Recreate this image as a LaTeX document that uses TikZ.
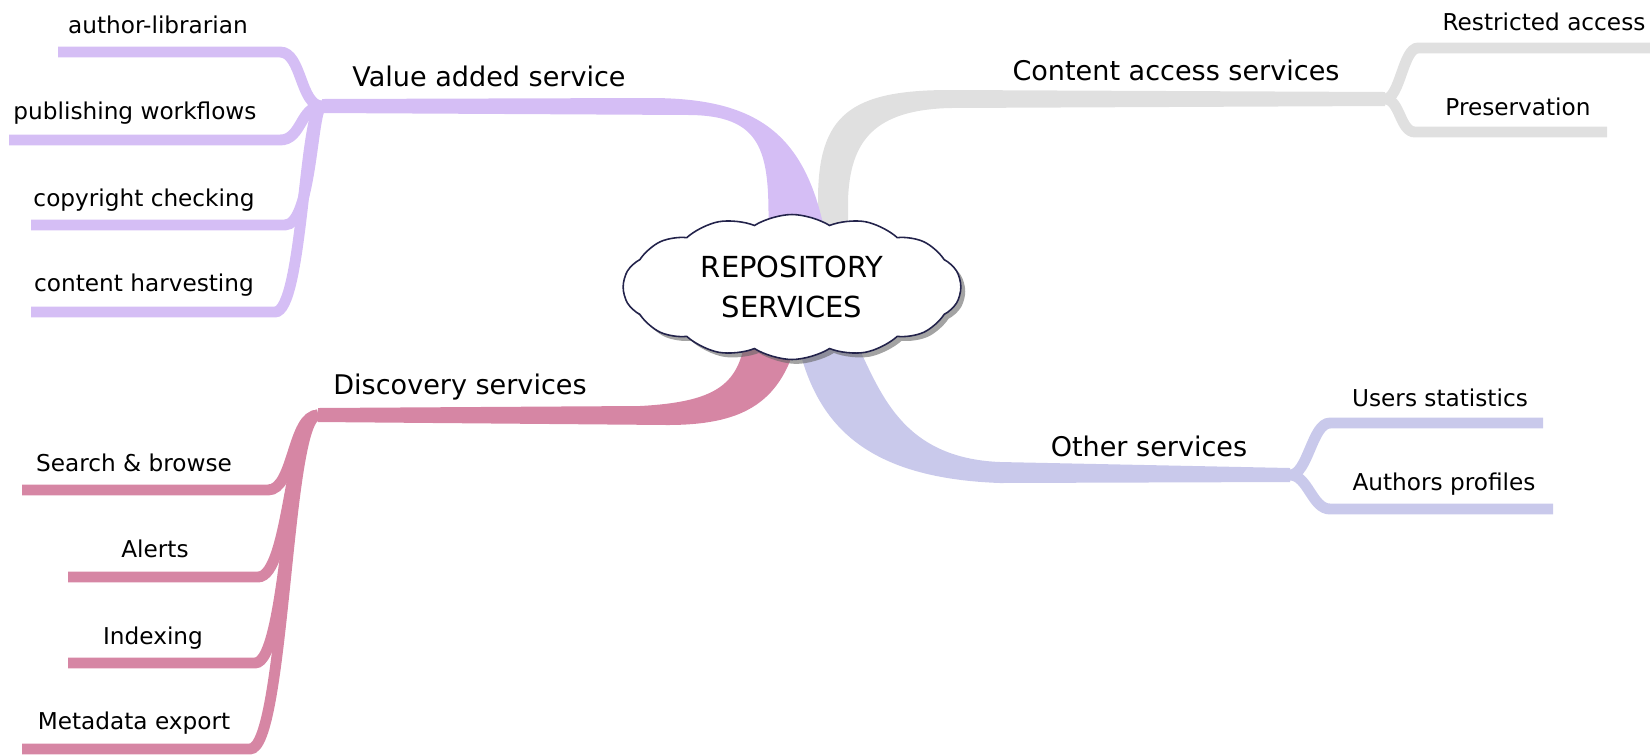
\documentclass[tikz,border=0pt]{standalone}
\usepackage{fontspec}
\setmainfont{DejaVu Sans}
\usepackage{tikz}
\usetikzlibrary{shapes,positioning,calc,shadows}
\definecolor{vacol}{RGB}{213,190,245}
\definecolor{accol}{RGB}{224,224,224}
\definecolor{dscol}{RGB}{214,134,164}
\definecolor{otcol}{RGB}{201,201,235}
\definecolor{hubline}{RGB}{35,35,75}

\begin{document}
\begin{tikzpicture}[
    x=0.02cm, y=0.02cm,
    leaf-label/.style={font=\fontsize{13.2}{15}\selectfont, inner sep=0pt},
    branch-label/.style={font=\fontsize{15.4}{18}\selectfont, inner sep=0pt},
    leaf-bar/.style={line width=6.2pt},
    hub-cloud/.style={cloud, cloud puffs=14, cloud puff arc=65, cloud ignores aspect, minimum width=6.75cm, minimum height=2.9cm, draw=hubline, line width=0.9pt, fill=white, align=center, font=\fontsize{16.5}{22.7}\selectfont, drop shadow={shadow xshift=2.5pt, shadow yshift=-2.5pt, fill=black!60, opacity=0.6}}
]
\useasboundingbox (0,0) rectangle (1650,-755);

% Junctions
\coordinate (va-j) at (322,-106);
\coordinate (ca-j) at (1385,-99);
\coordinate (ds-j) at (318,-415);
\coordinate (ot-j) at (1290,-475);

% Leaf bar ends
\coordinate (au-e) at (280,-52);   \coordinate (au-w) at (58,-52);
\coordinate (pw-e) at (280,-140);  \coordinate (pw-w) at (9,-140);
\coordinate (cc-e) at (285,-225);  \coordinate (cc-w) at (31,-225);
\coordinate (ch-e) at (275,-312);  \coordinate (ch-w) at (31,-312);
\coordinate (ra-e) at (1418,-48);  \coordinate (ra-w) at (1650,-48);
\coordinate (pr-e) at (1415,-132); \coordinate (pr-w) at (1607,-132);
\coordinate (sb-e) at (268,-490);  \coordinate (sb-w) at (22,-490);
\coordinate (ae-e) at (258,-577);  \coordinate (ae-w) at (68,-577);
\coordinate (ix-e) at (255,-663);  \coordinate (ix-w) at (68,-663);
\coordinate (me-e) at (250,-749);  \coordinate (me-w) at (22,-749);
\coordinate (us-e) at (1330,-423); \coordinate (us-w) at (1543,-423);
\coordinate (ap-e) at (1330,-509); \coordinate (ap-w) at (1553,-509);

% Main branches
\fill[accol] (818,-250) -- (818,-200) .. controls (818,-115) and (850,-90) .. (950,-90) -- (1385,-92) -- (1385,-106) -- (950,-108) .. controls (875,-110) and (850,-140) .. (848,-200) -- (848,-250) -- cycle;
\fill[vacol] (322,-99) -- (650,-98) .. controls (760,-98) and (810,-135) .. (828,-250) -- (768,-250) .. controls (770,-160) and (770,-116) .. (690,-115) -- (322,-113) -- cycle;
\fill[dscol] (745,-340) .. controls (738,-385) and (715,-402) .. (640,-406) -- (318,-408) -- (318,-422) -- (667,-425) .. controls (740,-425) and (780,-405) .. (797,-340) -- cycle;
\fill[otcol] (797,-340) .. controls (815,-420) and (860,-478) .. (1000,-483) -- (1290,-482) -- (1290,-468) -- (1000,-462) .. controls (900,-458) and (880,-390) .. (855,-340) -- cycle;

% Value added leaves
\draw[leaf-bar, vacol] (va-j) .. controls +(-22,0) and +(22,0) .. (au-e) -- (au-w);
\draw[leaf-bar, vacol] (va-j) .. controls +(-22,0) and +(22,0) .. (pw-e) -- (pw-w);
\draw[leaf-bar, vacol] (va-j) .. controls +(-10,0) and +(27,0) .. (cc-e) -- (cc-w);
\draw[leaf-bar, vacol] (va-j) .. controls +(-18,0) and +(28,0) .. (ch-e) -- (ch-w);

% Content access leaves
\draw[leaf-bar, accol] (ca-j) .. controls +(15,0) and +(-15,0) .. (ra-e) -- (ra-w);
\draw[leaf-bar, accol] (ca-j) .. controls +(15,0) and +(-15,0) .. (pr-e) -- (pr-w);

% Discovery leaves
\draw[leaf-bar, dscol] (ds-j) .. controls +(-26,0) and +(26,0) .. (sb-e) -- (sb-w);
\draw[leaf-bar, dscol] (ds-j) .. controls +(-28,0) and +(32,0) .. (ae-e) -- (ae-w);
\draw[leaf-bar, dscol] (ds-j) .. controls +(-30,0) and +(33,0) .. (ix-e) -- (ix-w);
\draw[leaf-bar, dscol] (ds-j) .. controls +(-32,0) and +(35,0) .. (me-e) -- (me-w);

% Other leaves
\draw[leaf-bar, otcol] (ot-j) .. controls +(18,0) and +(-18,0) .. (us-e) -- (us-w);
\draw[leaf-bar, otcol] (ot-j) .. controls +(18,0) and +(-18,0) .. (ap-e) -- (ap-w);

% Hub
\node[hub-cloud] (hub) at (792,-287) {REPOSITORY\\SERVICES};

% Branch labels
\node[branch-label] (va) at (489,-76) {Value added service};
\node[branch-label] (ca) at (1176,-70) {Content access services};
\node[branch-label] (ds) at (460,-387) {Discovery services};
\node[branch-label] (ot) at (1149,-446) {Other services};

% Leaf labels
\node[leaf-label] (au) at (158,-25) {author-librarian};
\node[leaf-label] (pw) at (135,-113) {publishing workflows};
\node[leaf-label] (cc) at (144,-200) {copyright checking};
\node[leaf-label] (ch) at (144,-285) {content harvesting};
\node[leaf-label] (ra) at (1544,-22) {Restricted access};
\node[leaf-label] (pr) at (1518,-107) {Preservation};
\node[leaf-label] (sb) at (134,-463) {Search \& browse};
\node[leaf-label] (ae) at (155,-549) {Alerts};
\node[leaf-label] (ix) at (153,-638) {Indexing};
\node[leaf-label] (me) at (134,-723) {Metadata export};
\node[leaf-label] (us) at (1440,-398) {Users statistics};
\node[leaf-label] (ap) at (1444,-484) {Authors profiles};

\end{tikzpicture}
\end{document}
